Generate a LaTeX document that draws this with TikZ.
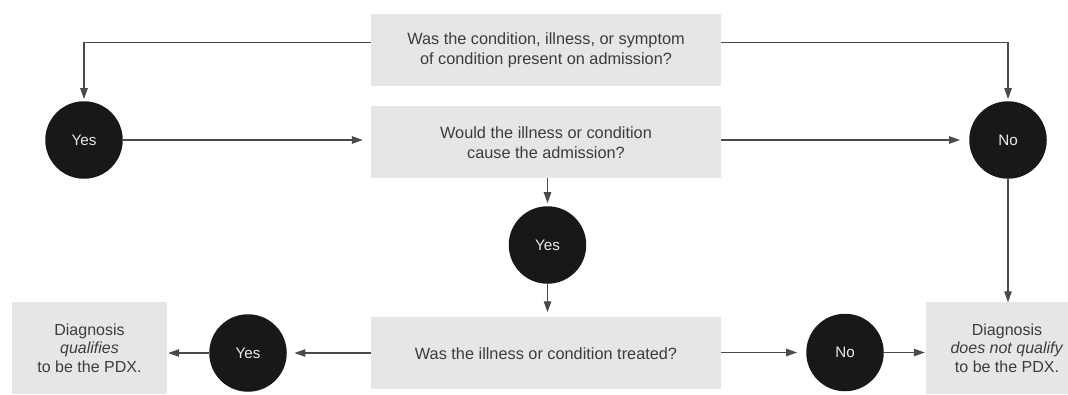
\documentclass[tikz,border=0pt]{standalone}
\usepackage{fontspec}
\setmainfont{Liberation Sans}
\usetikzlibrary{arrows.meta}
\definecolor{boxgray}{HTML}{E6E6E6}
\definecolor{txtgray}{HTML}{3C3C3C}
\definecolor{linegray}{HTML}{4A4A4A}
\definecolor{dot}{HTML}{1A1717}
\begin{document}
\begin{tikzpicture}[x=1pt,y=-1pt,
  qbox/.style={fill=boxgray,draw=none,inner sep=0pt,text=txtgray,align=center,font=\fontsize{16.3}{20}\selectfont},
  dbox/.style={qbox,font=\fontsize{16}{18.5}\selectfont},
  dec/.style={circle,fill=dot,draw=none,minimum size=77.5pt,inner sep=0pt,text=white!92!black,font=\fontsize{15.2}{16}\selectfont},
  arr/.style={draw=linegray,line width=1.2pt,-{Triangle[length=11pt,width=7.5pt]}}
]
\useasboundingbox (0,0) rectangle (1068,394);
\clip (0,0) rectangle (1068,394);
% boxes
\node[qbox,minimum width=350pt,minimum height=72pt] (q1) at (546,50.2) {Was the condition, illness, or symptom\\of condition present on admission?};
\node[qbox,minimum width=350pt,minimum height=72pt] (q2) at (546,142.2) {Would the illness or condition\\cause the admission?};
\node[qbox,minimum width=350pt,minimum height=71.5pt] (q3) at (546,353.2) {Was the illness or condition treated?};
\node[dbox,minimum width=155pt,minimum height=91.5pt] (dq) at (89.5,348.2) {Diagnosis\\\textit{qualifies}\\to be the PDX.};
\node[dbox,minimum width=162pt,minimum height=91.5pt] (dn) at (1007,348.2) {Diagnosis\\\textit{does not qualify}\\to be the PDX.};
% circles
\node[dec] (y1) at (84,140) {Yes};
\node[dec] (n1) at (1008,140) {No};
\node[dec] (y2) at (547.5,245) {Yes};
\node[dec] (y3) at (248,353) {Yes};
\node[dec] (n3) at (845,352.5) {No};
% helper coordinates on the top box
\coordinate (q1l) at (371,42.6);
\coordinate (q1r) at (721,42.6);
% connectors
\draw[arr,shorten >=2pt] (q1l) -| (y1.north);
\draw[arr,shorten >=2pt] (q1r) -| (n1.north);
\draw[arr,shorten >=8pt] (y1) -- (y1 -| q2.west);
\draw[arr,shorten >=9pt] (y1 -| q2.east) -- (n1);
\draw[arr,shorten >=3pt] (q2.south -| y2.north) -- (y2.north);
\draw[arr,shorten >=5pt] (y2) -- (y2 |- q3.north);
\draw[arr,shorten >=7.5pt] (y3 -| q3.west) -- (y3);
\draw[arr,shorten >=1pt] (y3) -- (y3 -| dq.east);
\draw[arr,shorten >=9pt] (n3 -| q3.east) -- (n3);
\draw[arr,shorten >=1pt] (n3) -- (n3 -| dn.west);
\draw[arr] (n1) -- (n1 |- dn.north);
\end{tikzpicture}
\end{document}
